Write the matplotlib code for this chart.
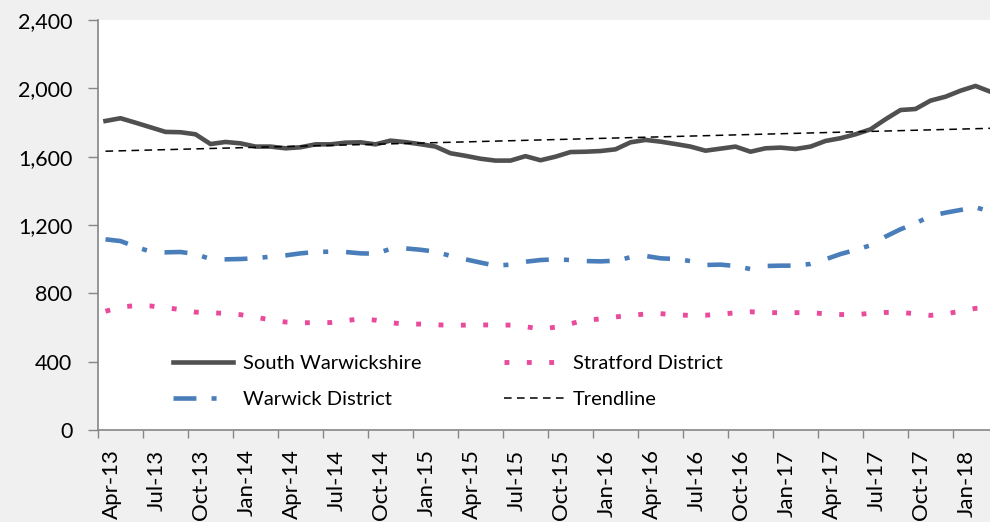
import matplotlib.pyplot as plt

# Monthly values, Apr-13 to Mar-18
south_warwickshire = [1809, 1825, 1799, 1772, 1745, 1743, 1731, 1674, 1686, 1678,
                      1659, 1659, 1649, 1655, 1672, 1672, 1682, 1684, 1672, 1694,
                      1685, 1673, 1659, 1620, 1605, 1588, 1577, 1577, 1603, 1579,
                      1600, 1627, 1629, 1633, 1643, 1684, 1698, 1688, 1674, 1659,
                      1635, 1647, 1659, 1629, 1649, 1653, 1645, 1659, 1692, 1708,
                      1731, 1760, 1819, 1873, 1879, 1928, 1951, 1986, 2014, 1980]
warwick = [1116, 1106, 1073, 1044, 1040, 1042, 1030, 1001, 999, 1001,
           1005, 1015, 1022, 1034, 1042, 1044, 1042, 1034, 1032, 1060,
           1063, 1055, 1044, 1019, 999, 980, 962, 968, 985, 995,
           999, 995, 989, 987, 991, 1011, 1019, 1005, 1001, 989,
           966, 968, 960, 942, 960, 962, 962, 972, 999, 1030,
           1054, 1081, 1132, 1175, 1210, 1253, 1272, 1288, 1304, 1278]
stratford = [695, 720, 728, 726, 716, 705, 690, 686, 683, 675,
             660, 645, 632, 628, 628, 629, 640, 651, 643, 628,
             620, 620, 616, 613, 614, 615, 615, 614, 605, 591,
             602, 622, 643, 650, 662, 671, 679, 681, 674, 671,
             672, 678, 686, 692, 687, 687, 687, 687, 680, 676,
             675, 683, 688, 689, 680, 671, 680, 695, 712, 716]
trend_ends = [1632, 1766]

tick_labels = ["Apr-13", "Jul-13", "Oct-13", "Jan-14", "Apr-14", "Jul-14", "Oct-14",
               "Jan-15", "Apr-15", "Jul-15", "Oct-15", "Jan-16", "Apr-16", "Jul-16",
               "Oct-16", "Jan-17", "Apr-17", "Jul-17", "Oct-17", "Jan-18"]

plt.rcParams['font.family'] = ['Lato', 'DejaVu Sans']

n = len(south_warwickshire)
x = list(range(n))

fig = plt.figure(figsize=(9.9, 5.22), dpi=100, facecolor='#f0f0f0')
# plot area runs a little past the right edge, as in the cropped original
ax = fig.add_axes([98 / 990, 1 - 430 / 522, 900 / 990, 410 / 522])
ax.set_facecolor('white')

ax.plot(x, south_warwickshire, color='#505050', lw=3.3, solid_joinstyle='round',
        label='South Warwickshire')
ax.plot(x, warwick, color='#4a7ebb', lw=3.3, dashes=[5.0, 3.3, 1.1, 3.9],
        label='Warwick District')
ax.plot(x, stratford, color='#ea4a9b', lw=3.5, dashes=[1.0, 3.6],
        label='Stratford District')
ax.plot([0, n - 1], trend_ends, color='black', lw=1.1, dashes=[5, 3.5],
        label='Trendline')

ax.set_xlim(-0.5, n - 0.5)
ax.set_ylim(0, 2400)
ax.set_yticks(range(0, 2401, 400))
ax.set_yticklabels([f"{v:,}" for v in range(0, 2401, 400)])

ax.set_xticks([i - 0.5 for i in range(0, n + 1, 3)])
ax.set_xticklabels([])
ax.set_xticks([3 * k + 0.4 for k in range(len(tick_labels))], minor=True)
ax.set_xticklabels(tick_labels, minor=True, rotation=90)

ax.tick_params(axis='y', length=7, width=1, color='#868686', labelsize=15.5, pad=11.5)
ax.tick_params(axis='x', which='major', length=6, width=1, color='#868686')
ax.tick_params(axis='x', which='minor', length=0, labelsize=16, pad=14)

for side in ['top', 'right']:
    ax.spines[side].set_visible(False)
for side in ['left', 'bottom']:
    ax.spines[side].set_color('#868686')
    ax.spines[side].set_linewidth(1.2)

h, l = ax.get_legend_handles_labels()
ax.legend(h, l, ncol=2, frameon=False, fontsize=14.5, loc='upper left',
          bbox_to_anchor=(65 / 900, 1 - 325 / 410), borderpad=0,
          handlelength=3.0, handletextpad=0.45, columnspacing=4.1,
          labelspacing=0.95)

fig.savefig('out.png', dpi=100, facecolor=fig.get_facecolor())
